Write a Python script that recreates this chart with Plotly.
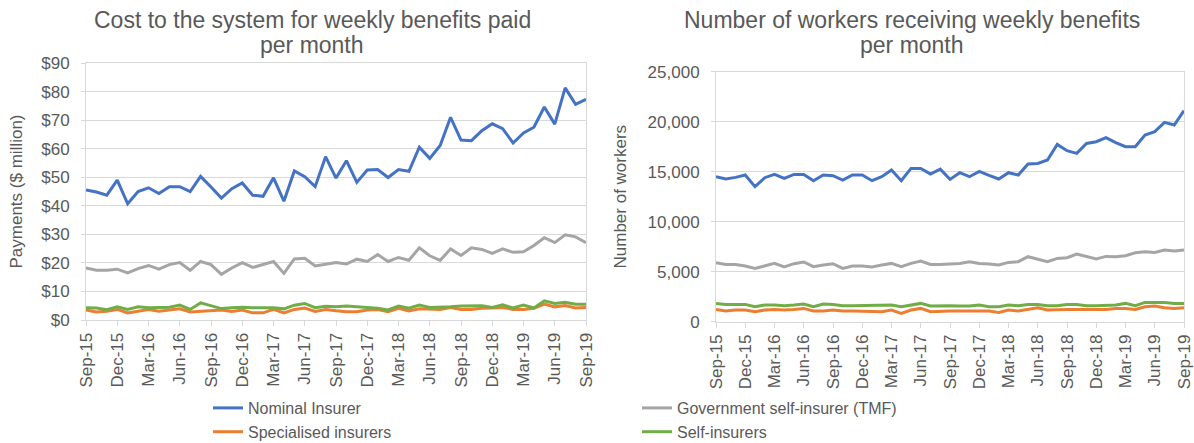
import plotly.graph_objects as go

W, H = 1194, 443

# Month labels Sep-15 .. Sep-19
months = ["Sep-15", "Oct-15", "Nov-15", "Dec-15", "Jan-16", "Feb-16", "Mar-16", "Apr-16",
          "May-16", "Jun-16", "Jul-16", "Aug-16", "Sep-16", "Oct-16", "Nov-16", "Dec-16",
          "Jan-17", "Feb-17", "Mar-17", "Apr-17", "May-17", "Jun-17", "Jul-17", "Aug-17",
          "Sep-17", "Oct-17", "Nov-17", "Dec-17", "Jan-18", "Feb-18", "Mar-18", "Apr-18",
          "May-18", "Jun-18", "Jul-18", "Aug-18", "Sep-18", "Oct-18", "Nov-18", "Dec-18",
          "Jan-19", "Feb-19", "Mar-19", "Apr-19", "May-19", "Jun-19", "Jul-19", "Aug-19",
          "Sep-19"]
tick_months = months[::3]

# Cost to the system ($ million)
cost_nominal = [45.5, 44.8, 43.7, 49.0, 40.7, 45.0, 46.3, 44.3, 46.7, 46.7, 45.0, 50.3,
                46.6, 42.7, 46.0, 48.0, 43.7, 43.3, 49.8, 41.6, 52.2, 50.2, 46.7, 57.2,
                49.7, 55.8, 48.2, 52.5, 52.7, 49.9, 52.7, 52.1, 60.5, 56.6, 61.1, 71.0,
                63.0, 62.8, 66.3, 68.7, 67.0, 62.0, 65.5, 67.5, 74.6, 68.6, 81.3, 75.5, 77.3]
cost_tmf = [18.2, 17.4, 17.4, 17.8, 16.5, 18.0, 19.1, 17.8, 19.4, 20.1, 17.4, 20.5,
            19.4, 16.0, 18.2, 20.1, 18.4, 19.5, 20.5, 16.3, 21.4, 21.6, 18.9, 19.5,
            20.1, 19.6, 21.3, 20.5, 22.9, 20.5, 21.9, 20.9, 25.3, 22.5, 20.9, 24.9,
            22.6, 25.3, 24.7, 23.3, 24.9, 23.7, 23.9, 26.1, 28.8, 27.1, 29.8, 29.1, 27.1]
cost_special = [3.5, 2.8, 3.1, 3.7, 2.5, 3.1, 3.7, 3.1, 3.4, 3.9, 2.8, 3.1,
                3.4, 3.5, 3.0, 3.5, 2.5, 2.5, 3.7, 2.5, 3.7, 4.2, 3.0, 3.7,
                3.2, 2.9, 2.9, 3.5, 3.7, 2.9, 4.1, 3.2, 3.9, 3.9, 3.7, 4.4,
                3.7, 3.7, 4.1, 4.2, 4.4, 3.7, 3.7, 4.1, 5.6, 4.6, 5.1, 4.2, 4.4]
cost_self = [4.3, 4.2, 3.6, 4.6, 3.7, 4.6, 4.3, 4.3, 4.5, 5.2, 3.7, 6.0,
             5.1, 4.0, 4.3, 4.5, 4.3, 4.3, 4.3, 3.9, 5.2, 5.8, 4.3, 4.8,
             4.6, 4.9, 4.6, 4.4, 4.1, 3.5, 4.9, 4.1, 5.2, 4.4, 4.4, 4.6,
             4.9, 5.0, 5.0, 4.4, 5.3, 4.2, 5.2, 4.2, 6.7, 5.8, 6.2, 5.5, 5.5]

# Number of workers receiving weekly benefits
workers_nominal = [14500, 14270, 14430, 14670, 13500, 14400, 14730, 14330, 14730, 14730,
                   14100, 14670, 14600, 14170, 14670, 14670, 14100, 14500, 15170, 14100,
                   15330, 15330, 14770, 15250, 14230, 14900, 14500, 15030, 14630, 14270,
                   14900, 14670, 15770, 15830, 16170, 17730, 17100, 16830, 17830, 18000,
                   18400, 17900, 17500, 17500, 18670, 19000, 19930, 19670, 21100]
workers_tmf = [5900, 5730, 5730, 5570, 5330, 5570, 5830, 5470, 5800, 5970,
               5500, 5670, 5800, 5330, 5570, 5570, 5470, 5670, 5830, 5500,
               5830, 6070, 5730, 5730, 5770, 5830, 6000, 5830, 5770, 5670,
               5930, 6000, 6500, 6270, 6000, 6330, 6400, 6770, 6500, 6270,
               6530, 6500, 6600, 6900, 7000, 6930, 7170, 7070, 7170]
workers_special = [1230, 1070, 1170, 1170, 1000, 1170, 1230, 1170, 1230, 1330,
                   1070, 1070, 1170, 1070, 1070, 1070, 1000, 1000, 1170, 830,
                   1170, 1330, 1000, 1070, 1070, 1070, 1070, 1070, 1070, 930,
                   1170, 1070, 1230, 1400, 1170, 1230, 1230, 1230, 1230, 1170,
                   1230, 1330, 1330, 1230, 1500, 1570, 1400, 1330, 1400]
workers_self = [1830, 1730, 1730, 1730, 1500, 1670, 1670, 1600, 1670, 1770,
                1500, 1770, 1730, 1600, 1600, 1600, 1600, 1600, 1670, 1500,
                1670, 1830, 1570, 1600, 1600, 1570, 1570, 1670, 1500, 1500,
                1670, 1600, 1730, 1730, 1600, 1600, 1730, 1730, 1600, 1600,
                1670, 1670, 1830, 1600, 1930, 1930, 1930, 1830, 1830]

series_names = ["Nominal Insurer", "Government self-insurer (TMF)",
                "Specialised insurers", "Self-insurers"]
series_colors = ["#4472C4", "#A5A5A5", "#ED7D31", "#70AD47"]
cost_series = [cost_nominal, cost_tmf, cost_special, cost_self]
worker_series = [workers_nominal, workers_tmf, workers_special, workers_self]

left_title = ["Cost to the system for weekly benefits paid", "per month"]
right_title = ["Number of workers receiving weekly benefits", "per month"]

FONT = "Liberation Sans, Arial, sans-serif"
TXT = "#595959"
GRID = "#D9D9D9"


def px_x(x):
    return x / W


def px_y(y):
    return 1 - y / H


fig = go.Figure()
for name, color, c_vals, w_vals in zip(series_names, series_colors, cost_series, worker_series):
    fig.add_trace(go.Scatter(x=months, y=c_vals, name=name, mode="lines",
                             line=dict(color=color, width=3), legendgroup=name,
                             xaxis="x", yaxis="y"))
    fig.add_trace(go.Scatter(x=months, y=w_vals, name=name, mode="lines",
                             line=dict(color=color, width=3), legendgroup=name,
                             showlegend=False, xaxis="x2", yaxis="y2"))

xaxis_common = dict(
    type="category", range=[0, len(months) - 1], tickmode="array",
    tickvals=tick_months, ticktext=tick_months, tickangle=-90,
    ticks="outside", ticklen=5, tickcolor=GRID, showgrid=False,
    showline=True, linecolor=GRID, linewidth=1, mirror=True,
    tickfont=dict(family=FONT, size=17, color=TXT), zeroline=False,
)
yaxis_common = dict(
    ticks="outside", ticklen=4, tickcolor=GRID, showgrid=True, gridcolor=GRID,
    gridwidth=1, showline=True, linecolor=GRID, linewidth=1, mirror=True,
    tickfont=dict(family=FONT, size=17, color=TXT), zeroline=False,
    ticklabelstandoff=8,
)

# Two-line chart titles, one annotation per line
annotations = []
for lines, cx in ((left_title, 312), (right_title, 912)):
    for text, cy in zip(lines, (20, 45)):
        annotations.append(dict(text=text, x=px_x(cx), y=px_y(cy), xref="paper", yref="paper",
                                xanchor="center", yanchor="middle", showarrow=False,
                                font=dict(family=FONT, size=23, color=TXT)))

fig.update_layout(
    width=W, height=H,
    margin=dict(l=0, r=0, t=0, b=0, autoexpand=False),
    paper_bgcolor="white", plot_bgcolor="white",
    font=dict(family=FONT, color=TXT),
    xaxis=dict(domain=[px_x(86), px_x(586)], anchor="y", **xaxis_common),
    yaxis=dict(domain=[px_y(320), px_y(63)], anchor="x", range=[0, 90], dtick=10,
               tickprefix="$",
               title=dict(text="Payments ($ million)", font=dict(family=FONT, size=17, color=TXT),
                          standoff=14),
               **yaxis_common),
    xaxis2=dict(domain=[px_x(716), px_x(1184)], anchor="y2", **xaxis_common),
    yaxis2=dict(domain=[px_y(321.7), px_y(71.7)], anchor="x2", range=[0, 25000], dtick=5000,
                tickformat=",d",
                title=dict(text="Number of workers", font=dict(family=FONT, size=17, color=TXT),
                           standoff=16),
                **yaxis_common),
    legend=dict(orientation="h", x=px_x(208), y=px_y(391), xanchor="left", yanchor="top",
                entrywidth=384, entrywidthmode="pixels", traceorder="normal",
                font=dict(family=FONT, size=16, color=TXT), bgcolor="rgba(0,0,0,0)",
                tracegroupgap=0, itemwidth=30),
    annotations=annotations,
)

fig.write_html("out.html")
